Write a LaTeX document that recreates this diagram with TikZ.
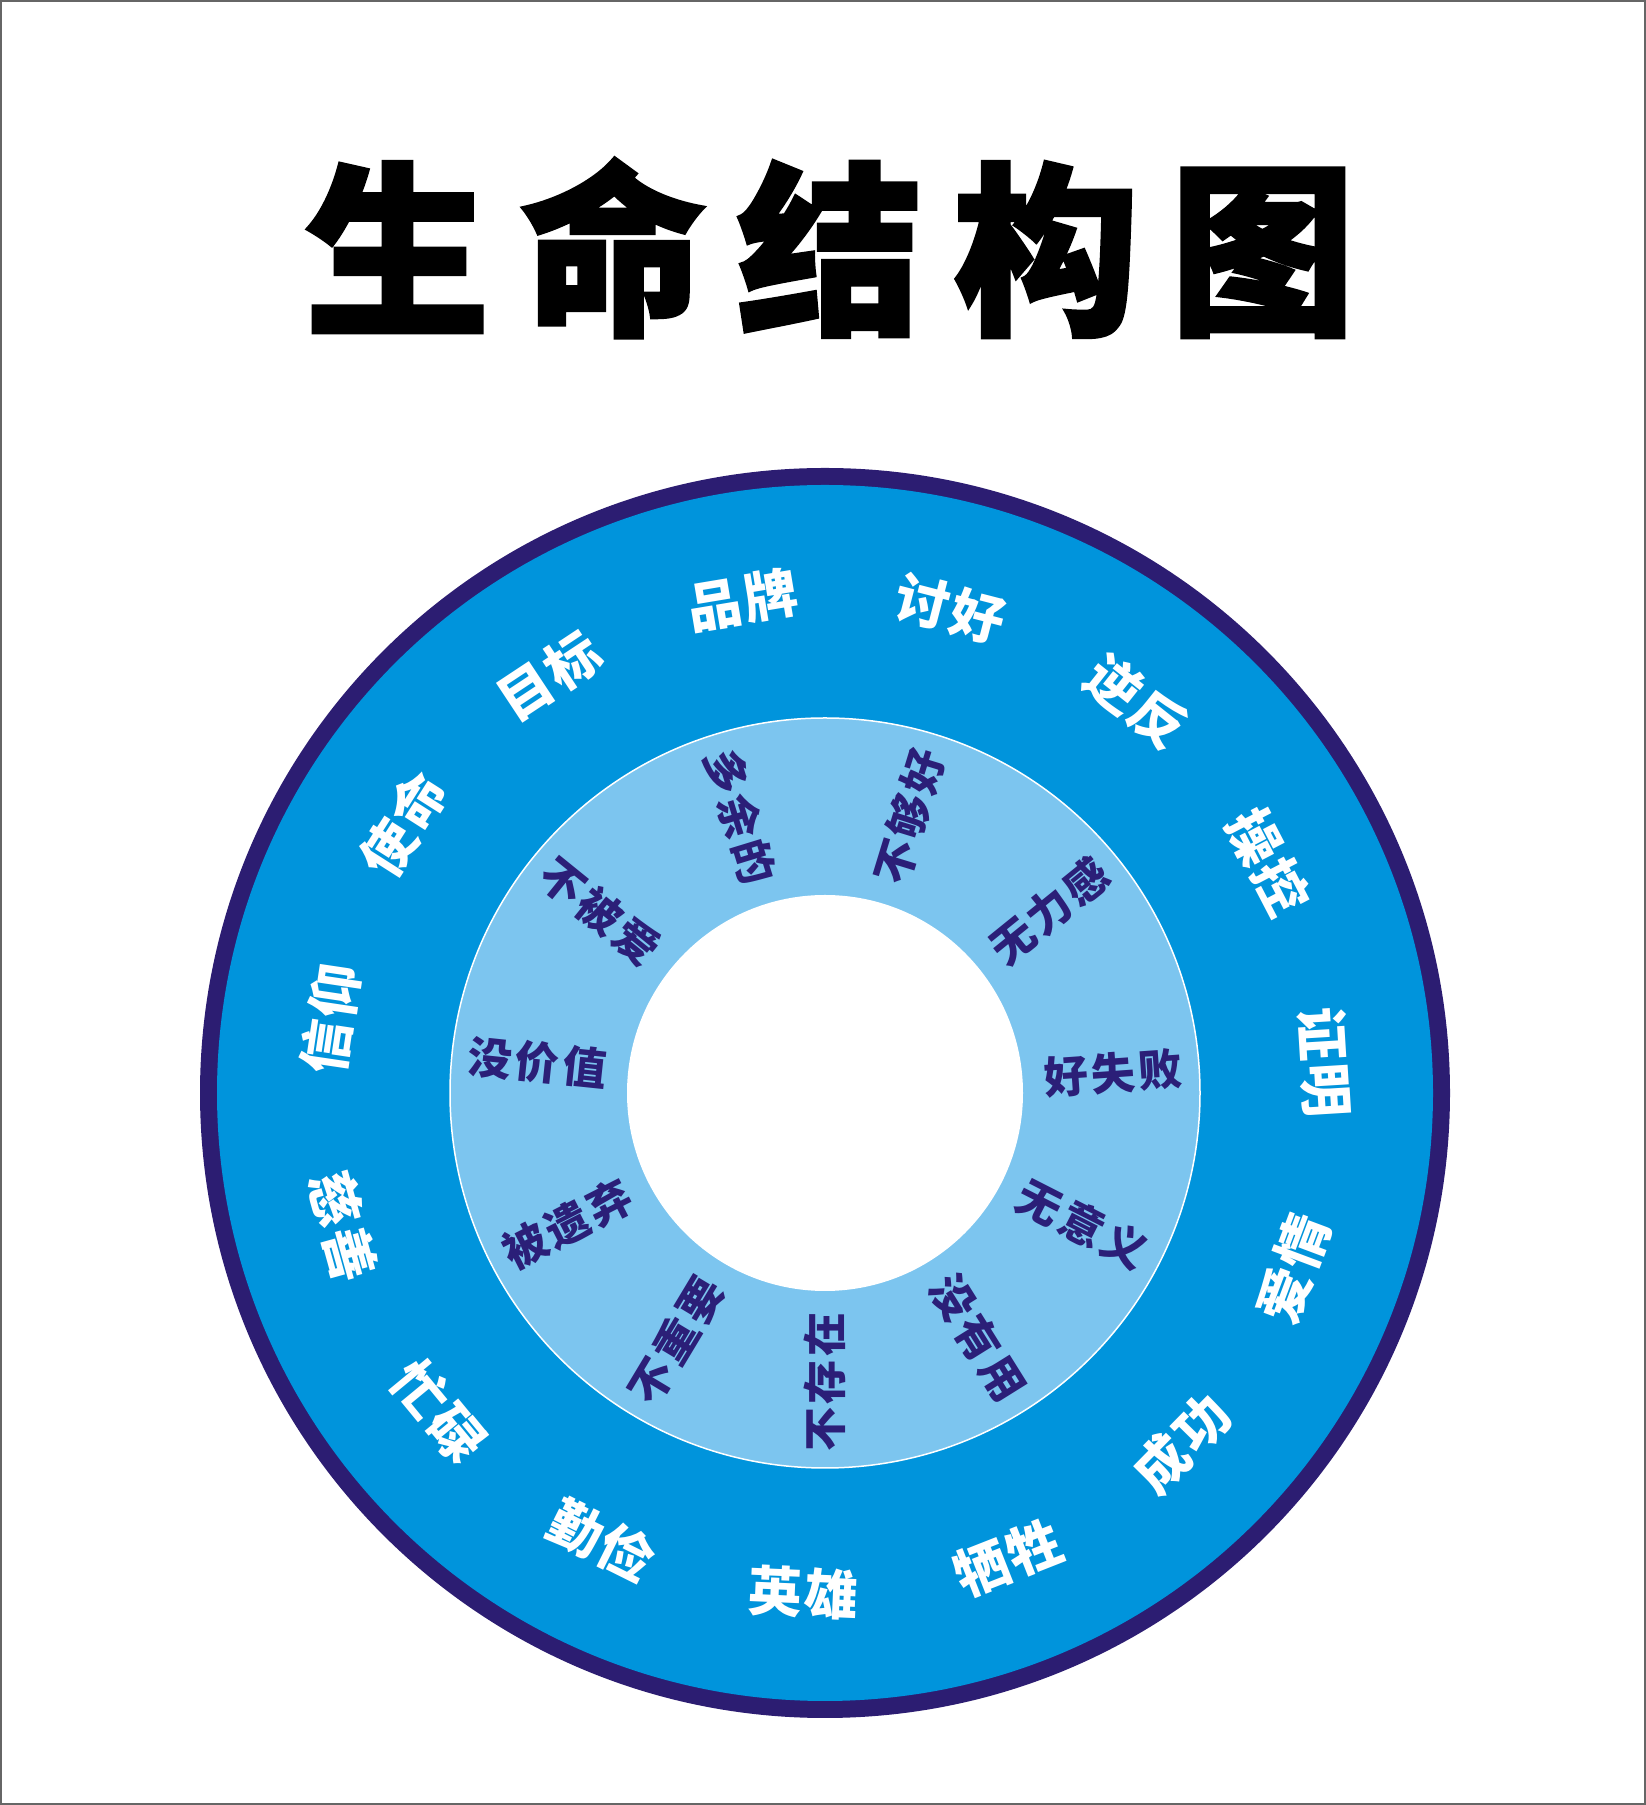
\documentclass[tikz,border=0pt]{standalone}
\usepackage{fontspec}
\newfontfamily\cjk{Noto Sans CJK SC}[LetterSpace=5]
\newfontfamily\cjkin{Noto Sans CJK SC}[LetterSpace=8]
\newfontfamily\cjktitle{Noto Sans CJK SC}[LetterSpace=17,BoldFeatures={FakeBold=2}]
\definecolor{ringnavy}{HTML}{2C1D72}
\definecolor{ringblue}{HTML}{0094DC}
\definecolor{ringlight}{HTML}{7CC5EF}
\definecolor{innernavy}{HTML}{2B1F78}
\definecolor{framegray}{HTML}{666666}
\tikzset{
  outerlabel/.style={text=white,inner sep=0pt,font=\cjk\bfseries\fontsize{54}{54}\selectfont},
  innerlabel/.style={text=innernavy,inner sep=0pt,font=\cjkin\bfseries\fontsize{44}{44}\selectfont}
}
\begin{document}
\begin{tikzpicture}[x=1pt,y=1pt]

        \useasboundingbox (0,0) rectangle (1646,1805);
        \draw[framegray,line width=2pt] (1,1) rectangle (1645,1804);

        \node[font=\cjktitle\bfseries\fontsize{185}{185}\selectfont] (title) at (830,1557) {生命结构图};

        % rings
        \coordinate (c) at (825,712);
        \fill[ringnavy] (c) circle (625);
        \fill[ringblue] (c) circle (608);
        \filldraw[fill=ringlight,draw=white,line width=1.5pt] (c) circle (375);
        \fill[white] (c) circle (198);

        % outer ring
        \foreach \a/\r/\t [count=\i] in {99.5/9.5/品牌, 75.5/-14.5/讨好, 51.5/-38.5/逆反,
            27.5/-62.5/操控, 3.5/-86.5/证明, -20.5/69.5/爱情, -44.5/45.5/成功,
            -68.5/21.5/牺牲, -92.5/-2.5/英雄, -116.5/-26.5/勤俭, -140.5/-50.5/忙碌,
            -164.5/-74.5/慈善, 171.5/81.5/信仰, 147.5/57.5/使命, 123.5/33.5/目标}
          \node[outerlabel,rotate=\r] (o\i) at ([shift={(\a:500)}]c) {\t};

        % inner ring
        \foreach \a/\r/\t [count=\i] in {107/-73/多余的, 73/73/不够好, 39/39/无力感,
            4/4/好失败, -27/-27/无意义, -58/-58/没有用, -90/90/不存在,
            -121/59/不重要, -153/27/被遗弃, 174/-6/没价值, 141/-39/不被爱}
          \node[innerlabel,rotate=\r] (i\i) at ([shift={(\a:289)}]c) {\t};

      \end{tikzpicture}
\end{document}
